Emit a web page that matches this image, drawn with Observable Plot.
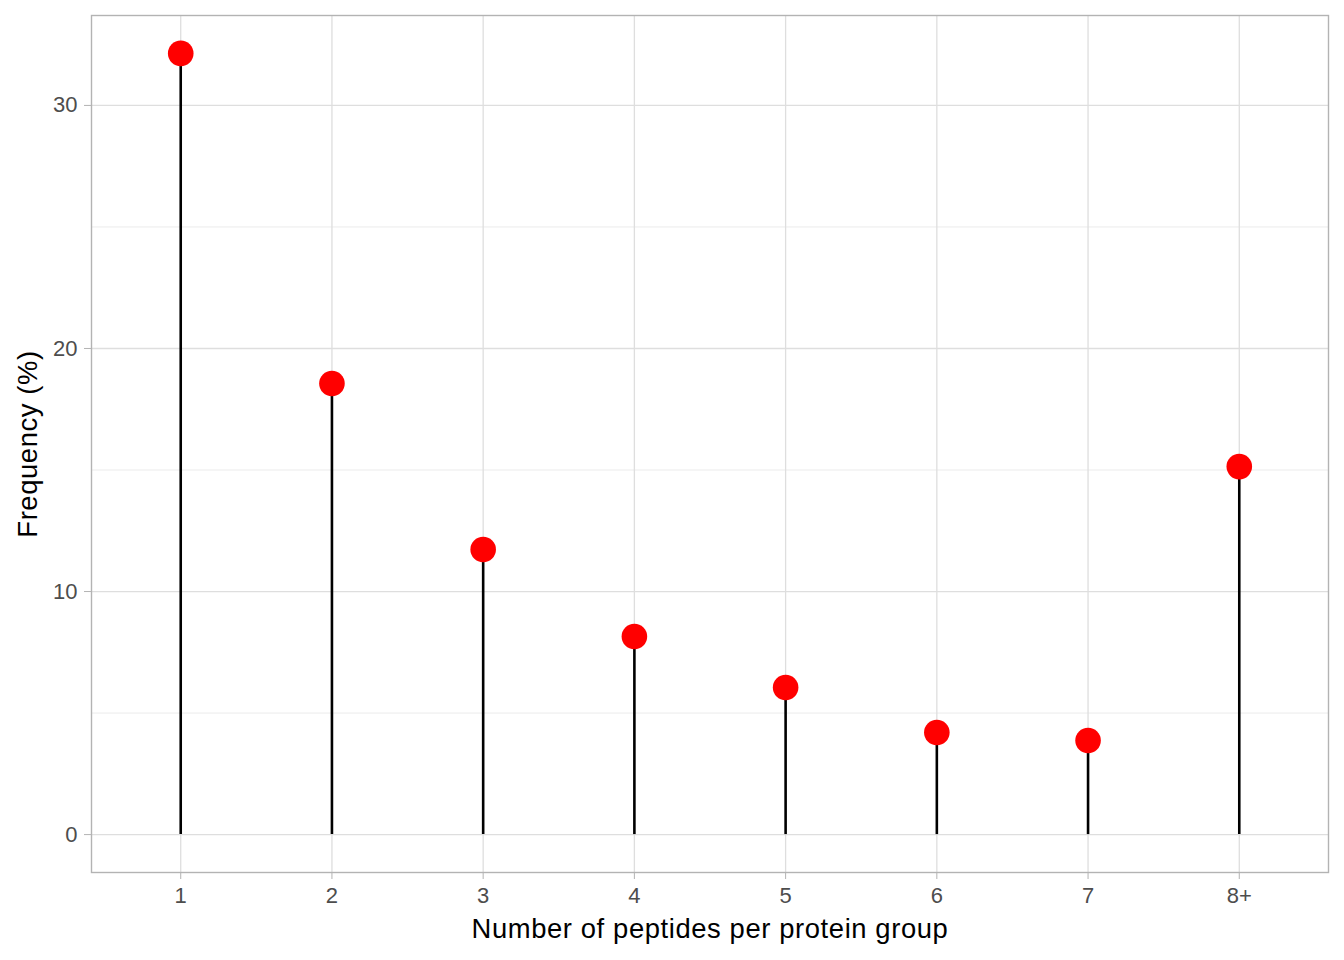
<!DOCTYPE html>
<html>
<head>
<meta charset="utf-8">
<script src="https://cdn.jsdelivr.net/npm/d3@7"></script>
<script src="https://cdn.jsdelivr.net/npm/@observablehq/plot@0.6"></script>
<style>
  html, body { margin: 0; padding: 0; background: #fff; }
  svg { font-family: "Liberation Sans", Arial, sans-serif; }
  g[aria-label="text"] text { letter-spacing: 0.6px; }
</style>
</head>
<body>
<div id="chart"></div>
<script>
const categories = ["1", "2", "3", "4", "5", "6", "7", "8+"];
const frequency = [32.14, 18.56, 11.73, 8.15, 6.05, 4.20, 3.87, 15.14];
const yMajorTicks = [0, 10, 20, 30];
const yMinorTicks = [5, 15, 25];
const xLabel = "Number of peptides per protein group";
const yLabel = "Frequency (%)";

const data = categories.map((c, i) => ({cat: c, value: frequency[i]}));

const chart = Plot.plot({
  width: 1344,
  height: 960,
  marginLeft: 91,
  marginRight: 16,
  marginTop: 15,
  marginBottom: 88,
  style: {fontFamily: "Liberation Sans, Arial, sans-serif", background: "#fff"},
  x: {type: "point", domain: categories, padding: 0.59, round: false},
  y: {domain: [-1.56, 33.7]},
  marks: [
    Plot.ruleY(yMinorTicks, {stroke: "#ebebeb", strokeWidth: 1}),
    Plot.ruleY(yMajorTicks, {stroke: "#dedede", strokeWidth: 1.3}),
    Plot.ruleX(categories, {x: d => d, stroke: "#dedede", strokeWidth: 1.3}),
    Plot.frame({stroke: "#b3b3b3", strokeWidth: 1.4}),
    Plot.axisY({ticks: yMajorTicks, tickSize: 7, tickPadding: 7, stroke: "#b3b3b3", fill: "#4d4d4d", fontSize: 22, label: null}),
    Plot.axisX({tickSize: 7, tickPadding: 8, stroke: "#b3b3b3", fill: "#4d4d4d", fontSize: 22, label: null}),
    Plot.text([xLabel], {text: d => d, frameAnchor: "bottom", dy: 65, lineAnchor: "bottom", textAnchor: "middle", fontSize: 27.4, fill: "#000"}),
    Plot.text([yLabel], {text: d => d, frameAnchor: "left", dx: -55, lineAnchor: "bottom", textAnchor: "middle", rotate: -90, fontSize: 27.4, fill: "#000"}),
    Plot.ruleX(data, {x: "cat", y1: 0, y2: "value", stroke: "black", strokeWidth: 2.6}),
    Plot.dot(data, {x: "cat", y: "value", r: 12.8, fill: "#ff0000", stroke: "none"})
  ]
});

document.getElementById("chart").appendChild(chart);
</script>
</body>
</html>
